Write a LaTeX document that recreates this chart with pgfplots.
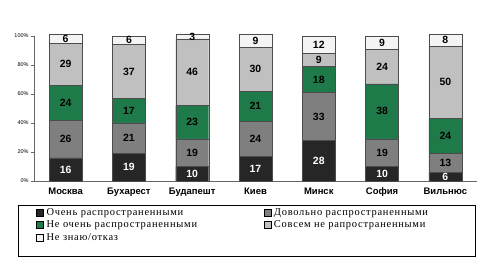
\documentclass[border=0pt]{standalone}
\usepackage{pgfplots}
\pgfplotsset{compat=1.18}
\usepackage{fontspec}
\setmainfont{Liberation Serif}
\setsansfont{Liberation Sans}
\definecolor{c1}{HTML}{262626}
\definecolor{c2}{HTML}{7F7F7F}
\definecolor{c3}{HTML}{1F7A4A}
\definecolor{c4}{HTML}{C0C0C0}
\definecolor{c5}{HTML}{F4F4F4}
\begin{document}
\begin{tikzpicture}
\path (0,0) rectangle (482bp,268bp);
\draw[black, line width=0.6bp] (18bp,12bp) rectangle (475bp,63bp);
\begin{axis}[
  at={(34bp,87bp)}, anchor=south west,
  scale only axis, width=443bp, height=145bp,
  ybar stacked, bar width=33bp,
  xmin=-0.5, xmax=6.5, ymin=0, ymax=100,
  clip=false,
  xtick={0,1,2,3,4,5,6},
  xticklabels={Москва,Бухарест,Будапешт,Киев,Минск,София,Вильнюс},
  typeset ticklabels with strut,
  xticklabel style={font=\sffamily\bfseries\fontsize{9.5}{11}\selectfont, yshift=0.5bp},
  ytick={0,20,40,60,80,100},
  yticklabels={0\%,20\%,40\%,60\%,80\%,100\%},
  yticklabel style={font=\sffamily\fontsize{5.5}{6}\selectfont, xshift=1bp},
  axis x line*=bottom, axis y line*=left,
  axis line style={gray!80!black, -},
  x axis line style={-}, y axis line style={-},
  major x tick style={draw=none},
  major y tick style={gray!80!black},
  tick align=outside, major tick length=3bp,
  legend columns=2,
  legend cell align=left,
  legend image code/.code={\draw[#1, draw=black] (0bp,-3.5bp) rectangle (7bp,3.5bp);},
  legend style={at={(axis description cs:0.0045,-0.172)}, anchor=north west,
    draw=none, fill=none, inner sep=0bp, row sep=0bp,
    font=\rmfamily\fontsize{10.5}{12}\selectfont\addfontfeature{LetterSpace=7},
    nodes={text height=8bp, text depth=2.5bp, inner xsep=3bp, inner ysep=1bp},
    /tikz/column 2/.style={text width=214bp}},
]
\addplot[fill=c1, draw=gray!60!black] coordinates {(0,16) (1,19) (2,10) (3,17) (4,28) (5,10) (6,6)};
\addplot[fill=c2, draw=gray!60!black] coordinates {(0,26) (1,21) (2,19) (3,24) (4,33) (5,19) (6,13)};
\addplot[fill=c3, draw=gray!60!black] coordinates {(0,24) (1,17) (2,23) (3,21) (4,18) (5,38) (6,24)};
\addplot[fill=c4, draw=gray!60!black] coordinates {(0,29) (1,37) (2,46) (3,30) (4,9) (5,24) (6,50)};
\addplot[fill=c5, draw=gray!60!black] coordinates {(0,6) (1,6) (2,3) (3,9) (4,12) (5,9) (6,8)};
\legend{Очень распространенными, Довольно распространенными, Не очень распространенными, Совсем не рапространенными, Не знаю/отказ}
\end{axis}
\begin{axis}[
  at={(34bp,87bp)}, anchor=south west,
  scale only axis, width=443bp, height=145bp,
  xmin=-0.5, xmax=6.5, ymin=0, ymax=100,
  hide axis, clip=false,
  nodes near coords,
  point meta=explicit symbolic,
  every node near coord/.append style={anchor=center, font=\sffamily\bfseries\fontsize{10.5}{12}\selectfont, inner sep=0pt},
]
\addplot[draw=none, mark=none, nodes near coords style={text=white, anchor=center}] coordinates {(0,8)[16] (1,9.5)[19] (2,5)[10] (3,8.5)[17] (4,14)[28] (5,5)[10] (6,3)[6]};
\addplot[draw=none, mark=none, nodes near coords style={text=black, anchor=center}] coordinates {(0,29)[26] (1,29.5)[21] (2,19.5)[19] (3,29)[24] (4,44.5)[33] (5,19.5)[19] (6,12.5)[13]};
\addplot[draw=none, mark=none, nodes near coords style={text=black, anchor=center}] coordinates {(0,54)[24] (1,48.5)[17] (2,40.5)[23] (3,51.5)[21] (4,70)[18] (5,48)[38] (6,31)[24]};
\addplot[draw=none, mark=none, nodes near coords style={text=black, anchor=center}] coordinates {(0,80.5)[29] (1,75.5)[37] (2,75)[46] (3,77)[30] (4,83.5)[9] (5,79)[24] (6,68)[50]};
\addplot[draw=none, mark=none, nodes near coords style={text=black, anchor=center}] coordinates {(0,98)[6] (1,97)[6] (2,99.5)[3] (3,96.5)[9] (4,94)[12] (5,95.5)[9] (6,97)[8]};
\end{axis}
\end{tikzpicture}
\end{document}
